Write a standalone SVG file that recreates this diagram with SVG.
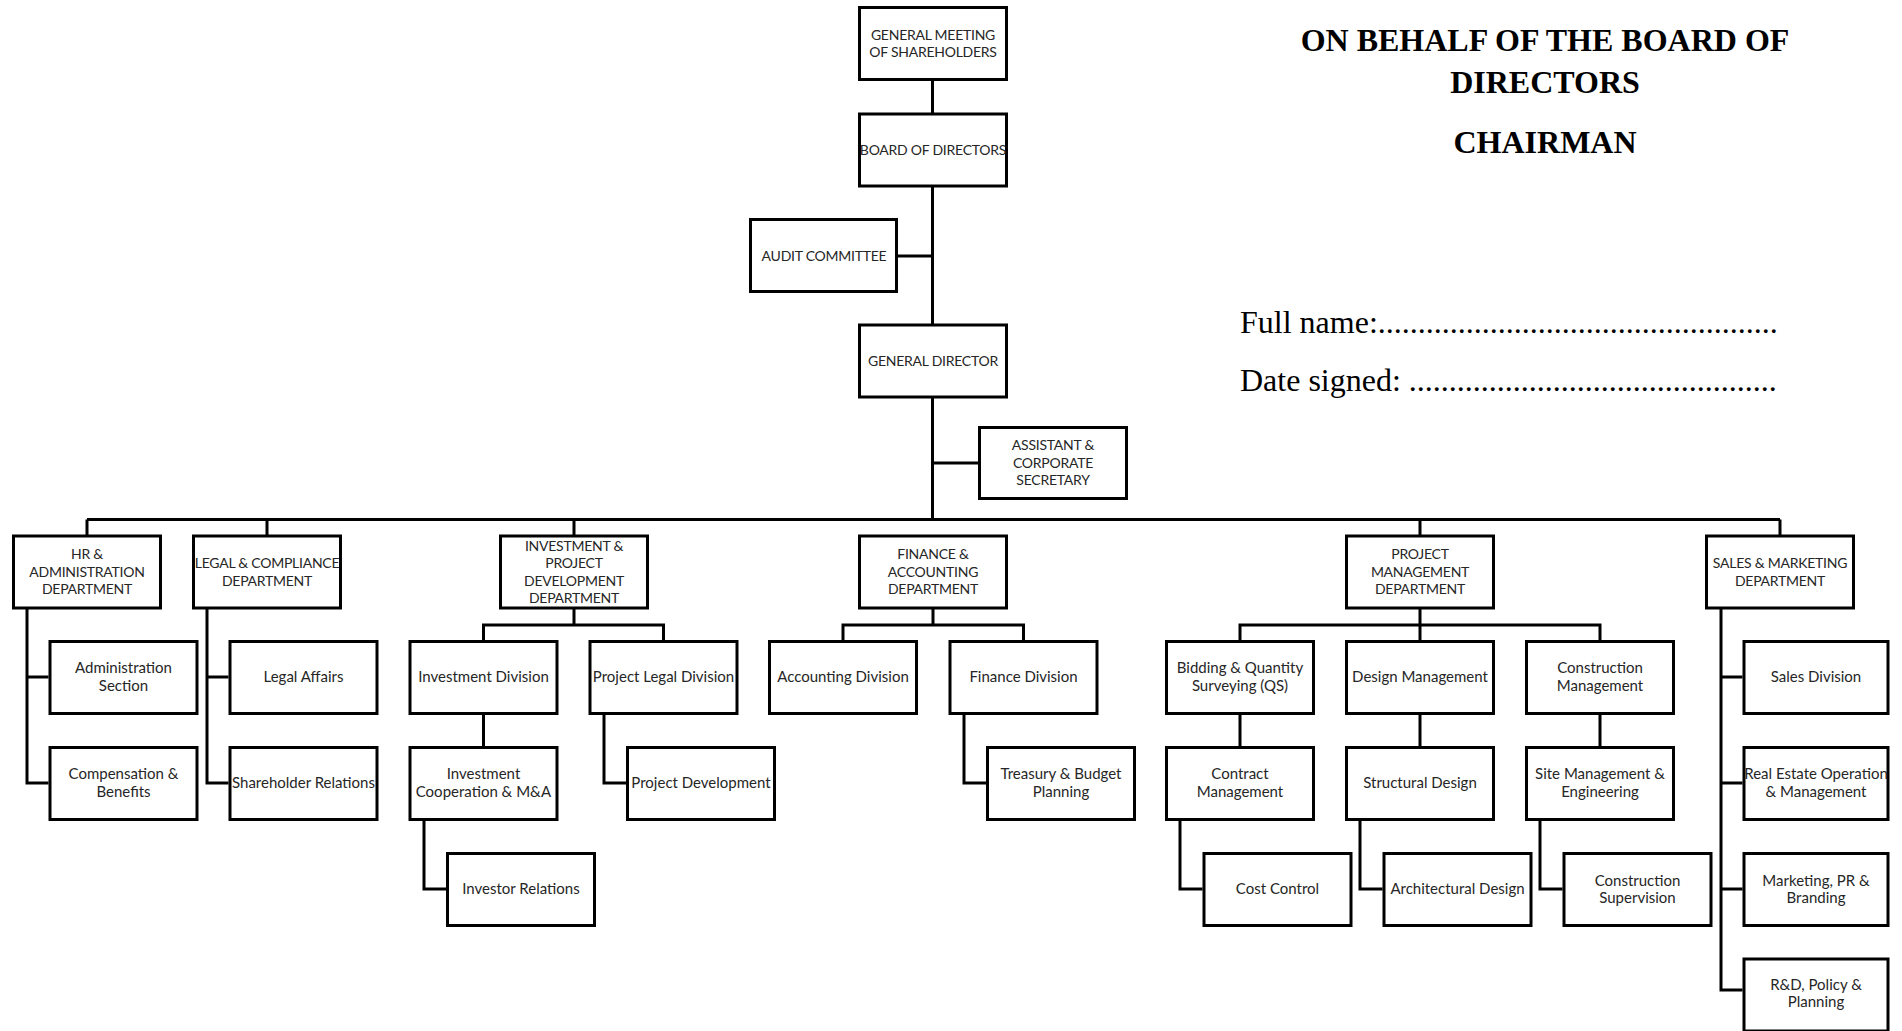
<svg xmlns="http://www.w3.org/2000/svg" width="1902" height="1031" viewBox="0 0 1902 1031">
<style>
.box{fill:#fff;stroke:#000;stroke-width:3}
.lbl{font-family:Lato,"Open Sans","Liberation Sans",sans-serif;font-size:15px;fill:#262626;text-anchor:middle}
.cap{font-size:14px;letter-spacing:-0.25px}
.conn{fill:none;stroke:#000;stroke-width:3}
.title{font-family:"Liberation Serif","Times New Roman",serif;font-size:32px;font-weight:bold;fill:#000;text-anchor:middle}
.sig{font-family:"Liberation Serif","Times New Roman",serif;font-size:32px;fill:#000}
</style>
<rect width="1902" height="1031" fill="#fff"/>
<g id="connectors">
<path class="conn" d="M932.5 81V114M932.5 186V325M898 256H932.5M932.5 397V520M932.5 463H979.5"/>
<path class="conn" d="M87 519.5H1780M87 519.5V536M267 519.5V536M574 519.5V536M1420 519.5V536M1780 519.5V536"/>
<path class="conn" d="M27 608V783H48.5M27 677H48.5M207 608V783H228.5M207 677H228.5"/>
<path class="conn" d="M574 608V625M483.5 641.5V625H663.5V641.5M483.5 713.5V747.5M424 819.5V889H446M604 713.5V783H626"/>
<path class="conn" d="M933 608V625M843 641.5V625H1023.5V641.5M964 713.5V783H986"/>
<path class="conn" d="M1420 608V641.5M1240 641.5V625H1600V641.5M1240 713.5V747.5M1420 713.5V747.5M1600 713.5V747.5M1180 819.5V889H1202.5M1360 819.5V889H1382.5M1540 819.5V889H1562.5"/>
<path class="conn" d="M1721 608V990H1742.5M1721 677H1742.5M1721 783H1742.5M1721 889H1742.5"/>
</g>
<g id="gms"><rect class="box" x="859.5" y="7.5" width="147" height="72"/><text class="lbl cap" x="933" y="39.8">GENERAL MEETING</text><text class="lbl cap" x="933" y="57.3">OF SHAREHOLDERS</text></g>
<g id="board"><rect class="box" x="859.5" y="114" width="147" height="72"/><text class="lbl cap" x="933" y="154.7">BOARD OF DIRECTORS</text></g>
<g id="audit"><rect class="box" x="750.5" y="219.5" width="146" height="72"/><text class="lbl cap" x="824" y="260.5">AUDIT COMMITTEE</text></g>
<g id="gd"><rect class="box" x="859.5" y="325" width="147" height="72"/><text class="lbl cap" x="933" y="365.8">GENERAL DIRECTOR</text></g>
<g id="assistant"><rect class="box" x="979.5" y="427.5" width="147" height="71"/><text class="lbl cap" x="1053" y="450.3">ASSISTANT &amp;</text><text class="lbl cap" x="1053" y="467.8">CORPORATE</text><text class="lbl cap" x="1053" y="485.3">SECRETARY</text></g>
<g id="hr"><rect class="box" x="13.5" y="536" width="147" height="72"/><text class="lbl cap" x="87" y="559.3">HR &amp;</text><text class="lbl cap" x="87" y="576.8">ADMINISTRATION</text><text class="lbl cap" x="87" y="594.3">DEPARTMENT</text></g>
<g id="legal"><rect class="box" x="193.5" y="536" width="147" height="72"/><text class="lbl cap" x="267" y="568">LEGAL &amp; COMPLIANCE</text><text class="lbl cap" x="267" y="585.5">DEPARTMENT</text></g>
<g id="investment"><rect class="box" x="500.5" y="536" width="147" height="72"/><text class="lbl cap" x="574" y="550.5">INVESTMENT &amp;</text><text class="lbl cap" x="574" y="568">PROJECT</text><text class="lbl cap" x="574" y="585.5">DEVELOPMENT</text><text class="lbl cap" x="574" y="603">DEPARTMENT</text></g>
<g id="finance"><rect class="box" x="859.5" y="536" width="147" height="72"/><text class="lbl cap" x="933" y="559.3">FINANCE &amp;</text><text class="lbl cap" x="933" y="576.8">ACCOUNTING</text><text class="lbl cap" x="933" y="594.3">DEPARTMENT</text></g>
<g id="pm"><rect class="box" x="1346.5" y="536" width="147" height="72"/><text class="lbl cap" x="1420" y="559.3">PROJECT</text><text class="lbl cap" x="1420" y="576.8">MANAGEMENT</text><text class="lbl cap" x="1420" y="594.3">DEPARTMENT</text></g>
<g id="sales"><rect class="box" x="1706.5" y="536" width="147" height="72"/><text class="lbl cap" x="1780" y="568">SALES &amp; MARKETING</text><text class="lbl cap" x="1780" y="585.5">DEPARTMENT</text></g>
<g id="admin"><rect class="box" x="50" y="641.5" width="147" height="72"/><text class="lbl" x="123.5" y="673.3">Administration</text><text class="lbl" x="123.5" y="690.8">Section</text></g>
<g id="legal-affairs"><rect class="box" x="230" y="641.5" width="147" height="72"/><text class="lbl" x="303.5" y="682">Legal Affairs</text></g>
<g id="inv-div"><rect class="box" x="410" y="641.5" width="147" height="72"/><text class="lbl" x="483.5" y="682">Investment Division</text></g>
<g id="proj-legal"><rect class="box" x="590" y="641.5" width="147" height="72"/><text class="lbl" x="663.5" y="682">Project Legal Division</text></g>
<g id="accounting"><rect class="box" x="769.5" y="641.5" width="147" height="72"/><text class="lbl" x="843" y="682">Accounting Division</text></g>
<g id="fin-div"><rect class="box" x="950" y="641.5" width="147" height="72"/><text class="lbl" x="1023.5" y="682">Finance Division</text></g>
<g id="bidding"><rect class="box" x="1166.5" y="641.5" width="147" height="72"/><text class="lbl" x="1240" y="673.3">Bidding &amp; Quantity</text><text class="lbl" x="1240" y="690.8">Surveying (QS)</text></g>
<g id="design"><rect class="box" x="1346.5" y="641.5" width="147" height="72"/><text class="lbl" x="1420" y="682">Design Management</text></g>
<g id="construction"><rect class="box" x="1526.5" y="641.5" width="147" height="72"/><text class="lbl" x="1600" y="673.3">Construction</text><text class="lbl" x="1600" y="690.8">Management</text></g>
<g id="sales-div"><rect class="box" x="1744" y="641.5" width="144" height="72"/><text class="lbl" x="1816" y="682">Sales Division</text></g>
<g id="comp"><rect class="box" x="50" y="747.5" width="147" height="72"/><text class="lbl" x="123.5" y="779.3">Compensation &amp;</text><text class="lbl" x="123.5" y="796.8">Benefits</text></g>
<g id="shareholder"><rect class="box" x="230" y="747.5" width="147" height="72"/><text class="lbl" x="303.5" y="788">Shareholder Relations</text></g>
<g id="inv-coop"><rect class="box" x="410" y="747.5" width="147" height="72"/><text class="lbl" x="483.5" y="779.3">Investment</text><text class="lbl" x="483.5" y="796.8">Cooperation &amp; M&amp;A</text></g>
<g id="proj-dev"><rect class="box" x="627.5" y="747.5" width="147" height="72"/><text class="lbl" x="701" y="788">Project Development</text></g>
<g id="treasury"><rect class="box" x="987.5" y="747.5" width="147" height="72"/><text class="lbl" x="1061" y="779.3">Treasury &amp; Budget</text><text class="lbl" x="1061" y="796.8">Planning</text></g>
<g id="contract"><rect class="box" x="1166.5" y="747.5" width="147" height="72"/><text class="lbl" x="1240" y="779.3">Contract</text><text class="lbl" x="1240" y="796.8">Management</text></g>
<g id="structural"><rect class="box" x="1346.5" y="747.5" width="147" height="72"/><text class="lbl" x="1420" y="788">Structural Design</text></g>
<g id="site"><rect class="box" x="1526.5" y="747.5" width="147" height="72"/><text class="lbl" x="1600" y="779.3">Site Management &amp;</text><text class="lbl" x="1600" y="796.8">Engineering</text></g>
<g id="real-estate"><rect class="box" x="1744" y="747.5" width="144" height="72"/><text class="lbl" x="1816" y="779.3">Real Estate Operation</text><text class="lbl" x="1816" y="796.8">&amp; Management</text></g>
<g id="investor-rel"><rect class="box" x="447.5" y="853.5" width="147" height="72"/><text class="lbl" x="521" y="894.2">Investor Relations</text></g>
<g id="cost"><rect class="box" x="1204" y="853.5" width="147" height="72"/><text class="lbl" x="1277.5" y="894.2">Cost Control</text></g>
<g id="arch"><rect class="box" x="1384" y="853.5" width="147" height="72"/><text class="lbl" x="1457.5" y="894.2">Architectural Design</text></g>
<g id="supervision"><rect class="box" x="1564" y="853.5" width="147" height="72"/><text class="lbl" x="1637.5" y="885.5">Construction</text><text class="lbl" x="1637.5" y="903">Supervision</text></g>
<g id="marketing"><rect class="box" x="1744" y="853.5" width="144" height="72"/><text class="lbl" x="1816" y="885.5">Marketing, PR &amp;</text><text class="lbl" x="1816" y="903">Branding</text></g>
<g id="rnd"><rect class="box" x="1744" y="959" width="144" height="72"/><text class="lbl" x="1816" y="989.5">R&amp;D, Policy &amp;</text><text class="lbl" x="1816" y="1007">Planning</text></g>
<g id="signature">
<text class="title" x="1545" y="51">ON BEHALF OF THE BOARD OF</text>
<text class="title" x="1545" y="93">DIRECTORS</text>
<text class="title" x="1545" y="152.5">CHAIRMAN</text>
<text class="sig" x="1240" y="333">Full name:..................................................</text>
<text class="sig" x="1240" y="391">Date signed: ..............................................</text>
</g>
</svg>
